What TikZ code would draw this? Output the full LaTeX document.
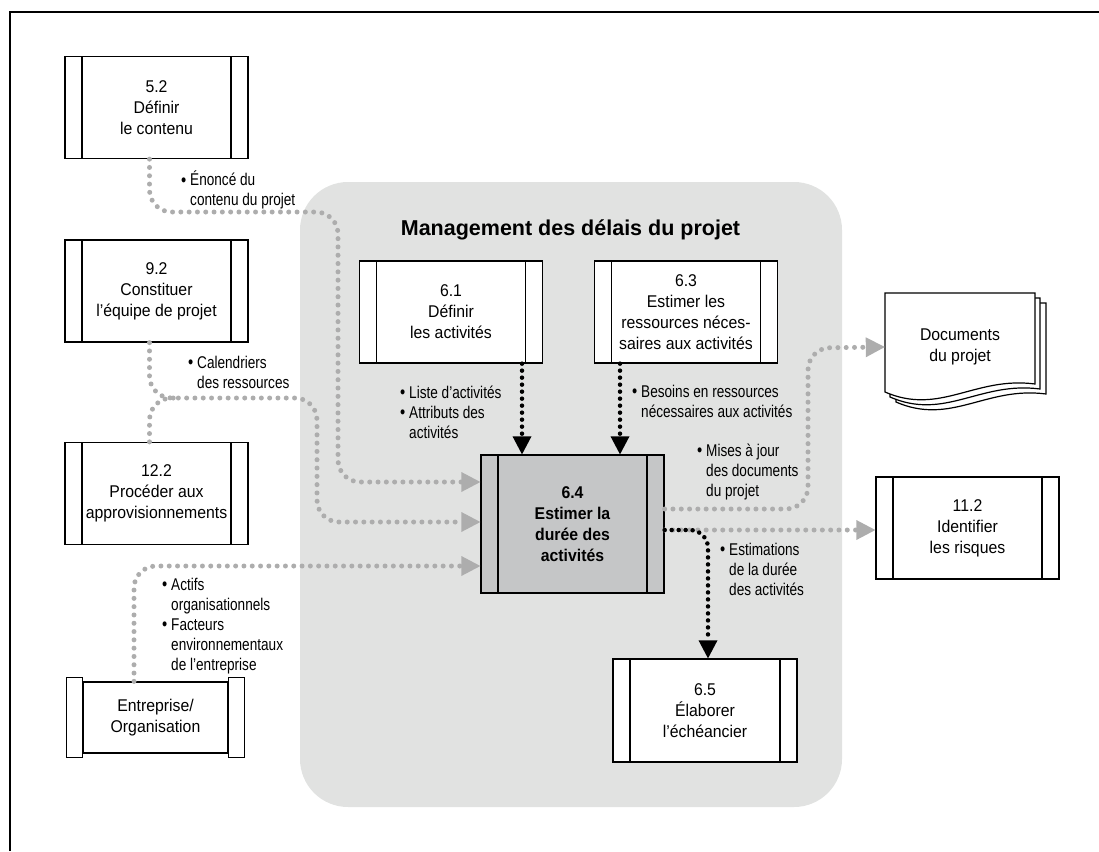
\documentclass[tikz,border=0pt]{standalone}
\usepackage{fontspec}
\setmainfont{Liberation Sans}
\newfontfamily\lblfont[FakeStretch=0.8]{Liberation Sans}
\newfontfamily\bxfont[FakeStretch=0.93]{Liberation Sans}
\usetikzlibrary{arrows.meta,calc}
\definecolor{regiongray}{HTML}{E1E2E1}
\definecolor{dotgray}{HTML}{ADADAD}
\definecolor{boxgray}{HTML}{C5C6C7}
\newcommand\boxfnt{\bxfont\fontsize{17}{21}\selectfont}
\newcommand\lblfnt{\lblfont\fontsize{17}{20}\selectfont}
\newcommand\lbul{\strut\makebox[9pt][l]{\raisebox{-0.3pt}{\fontsize{18.5}{20}\selectfont\textbullet}}}
\newcommand\lind{\hspace*{9pt}}
\begin{document}
\begin{tikzpicture}[x=1pt,y=-1pt,
  procbox/.style={draw, line width=1.3pt, fill=white, minimum width=183pt, minimum height=102pt,
    inner sep=0pt, align=center, font=\boxfnt,
    path picture={
      \draw[line width=1.3pt] ([xshift=17pt]path picture bounding box.north west) -- ([xshift=17pt]path picture bounding box.south west);
      \draw[line width=1.3pt] ([xshift=-17pt]path picture bounding box.north east) -- ([xshift=-17pt]path picture bounding box.south east);}},
  lbl/.style={anchor=north west, align=left, inner sep=0pt, font=\lblfnt},
  gdots/.style={draw=dotgray, line width=5pt, line cap=round, dash pattern=on 0pt off 8.3pt, rounded corners=22pt},
  gline/.style={gdots, -{Triangle[length=19pt,width=20pt,line width=0pt]}},
  bline/.style={draw=black, line width=4.5pt, line cap=round, dash pattern=on 0pt off 7pt, rounded corners=18pt,
    -{Triangle[length=18pt,width=19pt,line width=0pt]}},
  pagestyle/.style={draw, line width=1.2pt, fill=white}
]
\useasboundingbox (0,0) rectangle (1099,851);
% outer frame
\draw[line width=2pt] (10,851) -- (10,12) -- (1099,12);
% region
\fill[regiongray, rounded corners=48pt] (300,182) rectangle (842,807);
\node[font=\bfseries\fontsize{21.5}{25}\selectfont, anchor=base] (title) at (570.5,235) {Management des délais du projet};

% boxes
\node[procbox] (p52) at (156.5,107.5) {5.2\\Définir\\le contenu};
\node[procbox] (p92) at (156.5,291) {9.2\\Constituer\\l’équipe de projet};
\node[procbox] (p122) at (156.5,493.5) {12.2\\Procéder aux\\approvisionnements};
\node[procbox] (p61) at (451,312) {6.1\\Définir\\les activités};
\node[procbox] (p63) at (686,312) {6.3\\Estimer les\\ressources néces-\\saires aux activités};
\node[procbox, fill=boxgray, minimum height=138pt, font=\boxfnt\bfseries] (p64) at (572.5,524) {6.4\\Estimer la\\durée des\\activités};
\node[procbox, minimum width=184pt, minimum height=103pt] (p65) at (705,710.5) {6.5\\Élaborer\\l’échéancier};
\node[procbox] (p112) at (967.5,528) {11.2\\Identifier\\les risques};

% enterprise
\node[draw, line width=1.3pt, fill=white, minimum width=145pt, minimum height=71pt, inner sep=0pt,
  align=center, font=\boxfnt] (ent) at (155.5,717.5) {Entreprise/\\Organisation};
\draw[line width=1.3pt, fill=white] ([xshift=-16pt,yshift=4pt]ent.north west) rectangle ([yshift=-4pt]ent.south west);
\draw[line width=1.3pt, fill=white] ([yshift=4pt]ent.north east) rectangle ([xshift=16pt,yshift=-4pt]ent.south east);

% documents
\foreach \dx/\dy in {11/10, 5/5, 0/0} {
  \draw[pagestyle, shift={(\dx,\dy)}] (885,293) -- (1035,293) -- (1035,384)
    .. controls (975,376) and (940,416) .. (885,392) -- cycle;
}
\node[minimum width=150pt, minimum height=95pt, inner sep=0pt, align=center, font=\boxfnt] (docs) at (960,347) {Documents\\du projet};

% connectors (gray)
\draw[gline] ([xshift=-7pt]p52.south) |- (338,212) |- ([yshift=42pt]p64.west);
\draw[gline] ([xshift=-7pt]p92.south) |- (317,398) |- ([yshift=2pt]p64.west);
\draw[gdots] ([xshift=-7pt]p122.north) |- (178,398);
\draw[gline] ([xshift=-21.5pt]ent.north) |- ([yshift=-42pt]p64.west);
\draw[gline] ([yshift=15pt]p64.east) -| (808,348) -- (docs.west);
\draw[gline] ([yshift=-6pt]p64.east) coordinate (o64) -- (o64 -| p112.west);
% connectors (black)
\draw[bline] (o64) -| ([xshift=3pt]p65.north);
\draw[bline] ([xshift=71pt]p61.south) coordinate (o61) -- (o61 |- p64.north);
\draw[bline] ([xshift=-66pt]p63.south) coordinate (o63) -- (o63 |- p64.north);

% labels
\node[lbl] (l52) at (181,171) {\lbul Énoncé du\\\lind contenu du projet};
\node[lbl] (l92) at (188,354) {\lbul Calendriers\\\lind des ressources};
\node[lbl] (lent) at (162,576) {\lbul Actifs\\\lind organisationnels\\\lbul Facteurs\\\lind environnementaux\\\lind de l’entreprise};
\node[lbl] (l61) at (400,384) {\lbul Liste d’activités\\\lbul Attributs des\\\lind activités};
\node[lbl] (l63) at (632,383) {\lbul Besoins en ressources\\\lind nécessaires aux activités};
\node[lbl] (ldoc) at (697,442) {\lbul Mises à jour\\\lind des documents\\\lind du projet};
\node[lbl] (lest) at (720,541) {\lbul Estimations\\\lind de la durée\\\lind des activités};
\end{tikzpicture}
\end{document}
